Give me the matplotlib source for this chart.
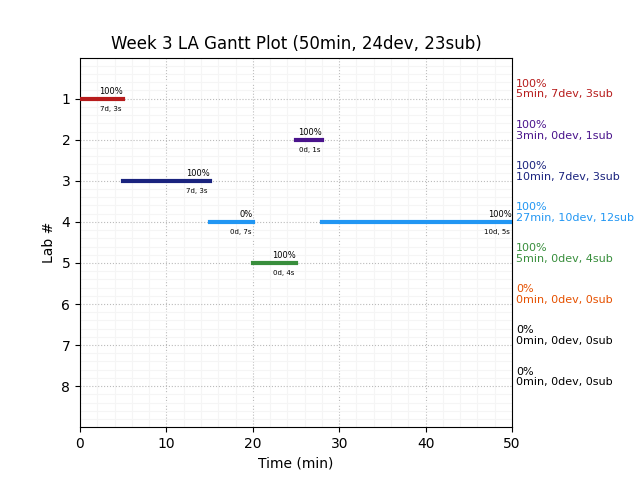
import matplotlib
matplotlib.use("Agg")
import matplotlib.pyplot as plt
from matplotlib.ticker import AutoMinorLocator

labs = [1, 2, 3, 4, 4, 5]
starts = [0, 25, 5, 15, 28, 20]
ends = [5, 28, 15, 20, 50, 25]
pcts = ["100%", "100%", "100%", "0%", "100%", "100%"]
subs = ["7d, 3s", "0d, 1s", "7d, 3s", "0d, 7s", "10d, 5s", "0d, 4s"]
lab_colors = ["#b71c1c", "#4a148c", "#1a237e", "#2196f3", "#388e3c", "#e65100", "black", "black"]
summary_pct = ["100%", "100%", "100%", "100%", "100%", "0%", "0%", "0%"]
summary_txt = ["5min, 7dev, 3sub", "3min, 0dev, 1sub", "10min, 7dev, 3sub",
               "27min, 10dev, 12sub", "5min, 0dev, 4sub", "0min, 0dev, 0sub",
               "0min, 0dev, 0sub", "0min, 0dev, 0sub"]
title = "Week 3 LA Gantt Plot (50min, 24dev, 23sub)"

fig, ax = plt.subplots(figsize=(6.4, 4.8), dpi=100)
fig.subplots_adjust(left=0.125, right=0.8, top=0.88, bottom=0.11)

for lab, s, e, p, t in zip(labs, starts, ends, pcts, subs):
    c = lab_colors[lab - 1]
    ax.plot([s, e], [lab, lab], color=c, linewidth=3, solid_capstyle="projecting", zorder=3)
    ax.text(e, lab - 0.06, p, ha="right", va="bottom", fontsize=6, zorder=4)
    ax.text(e - 0.2, lab + 0.17, t, ha="right", va="top", fontsize=5, zorder=4)

for i, (p, t) in enumerate(zip(summary_pct, summary_txt)):
    ax.text(1.01, i + 1 + 0.02, p + "\n" + t, transform=ax.get_yaxis_transform(),
            ha="left", va="bottom", fontsize=8, color=lab_colors[i], linespacing=1.05)

ax.set_xlim(0, 50)
ax.set_ylim(9, 0)
ax.set_yticks(range(1, 9))
ax.xaxis.set_minor_locator(AutoMinorLocator(5))
ax.yaxis.set_minor_locator(AutoMinorLocator(5))
ax.tick_params(which="minor", length=0)
ax.grid(which="major", color="#bbbbbb", linestyle=":", linewidth=0.8)
ax.grid(which="minor", color="#f5f5f5", linestyle="-", linewidth=0.8)
ax.set_axisbelow(True)
ax.set_xlabel("Time (min)")
ax.set_ylabel("Lab #")
ax.set_title(title)

fig.savefig("out.png", dpi=100)
